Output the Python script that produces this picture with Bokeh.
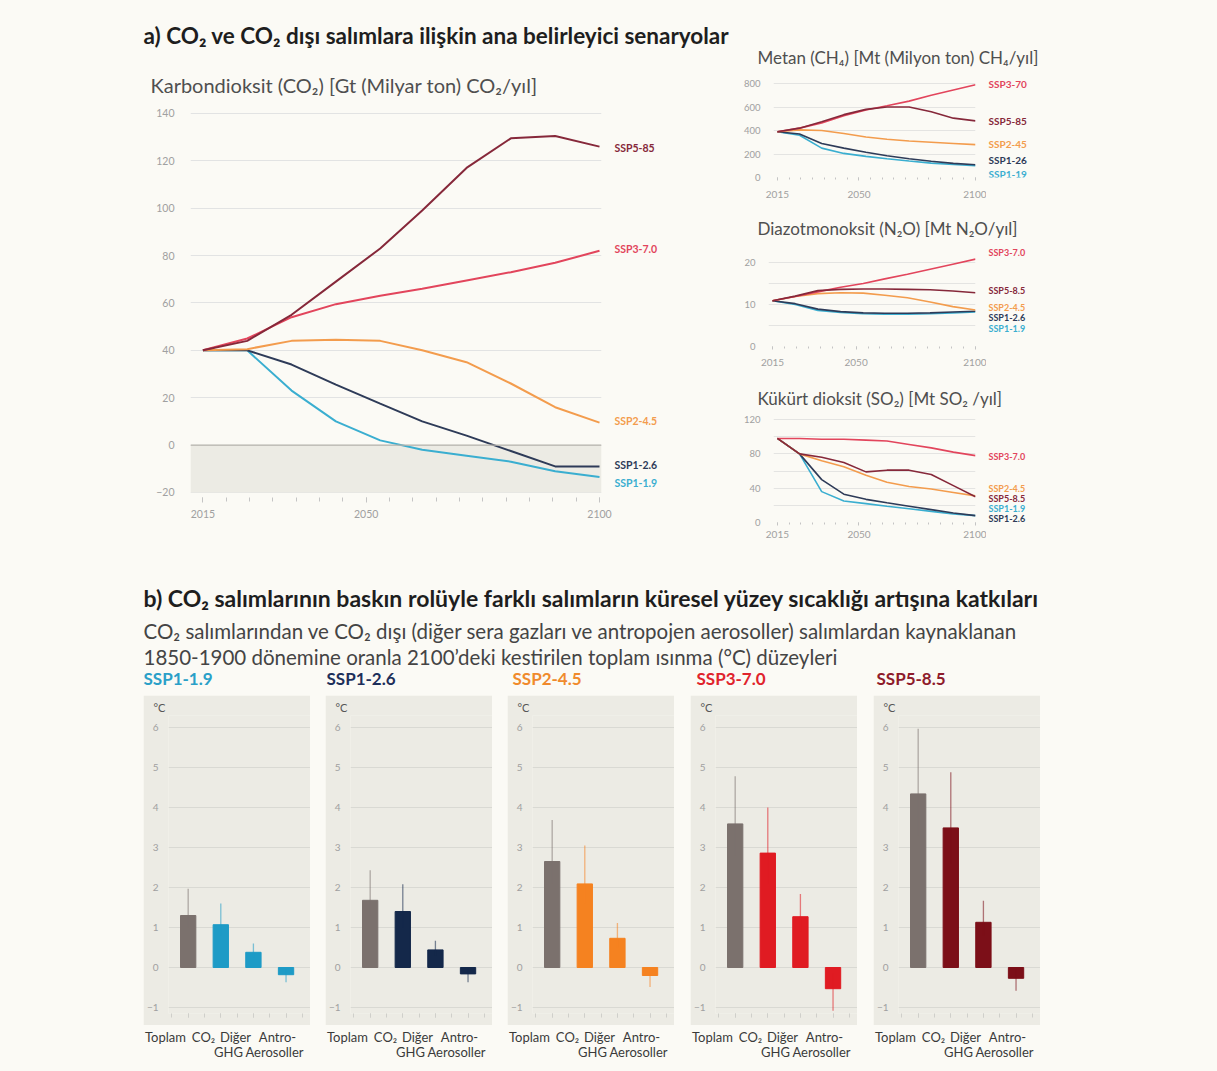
from bokeh.plotting import figure
from bokeh.models import Range1d, FixedTicker, Label, BoxAnnotation, Span, Spacer
from bokeh.layouts import row, column
from bokeh.embed import file_html
from bokeh.resources import INLINE

FONT = "Lato"
BG = "#fbfaf5"
PANEL = "#ecebe4"

# ------------------------------------------------------------------ data
scenarios = ["SSP1-1.9", "SSP1-2.6", "SSP2-4.5", "SSP3-7.0", "SSP5-8.5"]
# positions of the 10 plotted points along the 2015-2100 axis, as drawn
point_years = [2015, 2024.5, 2034, 2043.5, 2053, 2062, 2071.5, 2081, 2090.5, 2100]

co2_ssp119 = [40, 40, 23, 10, 2, -2, -4.5, -7, -11, -13.5]
co2_ssp126 = [40, 40, 34, 25.5, 17.5, 10, 4, -2.5, -9, -9]
co2_ssp245 = [40, 40.5, 44, 44.5, 44, 40, 35, 26, 16, 9.5]
co2_ssp370 = [40, 45, 54, 59.5, 63, 66, 69.5, 73, 77, 82]
co2_ssp585 = [40, 44, 55, 69, 83, 99, 117, 129.5, 130.5, 126]

ch4_ssp119 = [390, 360, 250, 205, 180, 160, 140, 122, 110, 100]
ch4_ssp126 = [390, 370, 290, 250, 215, 185, 160, 138, 120, 108]
ch4_ssp245 = [390, 405, 400, 375, 345, 325, 310, 300, 290, 280]
ch4_ssp370 = [390, 420, 465, 525, 575, 610, 650, 700, 745, 790]
ch4_ssp585 = [390, 420, 475, 535, 580, 600, 600, 560, 505, 482]

n2o_ssp119 = [10.9, 10.0, 8.6, 8.1, 7.8, 7.7, 7.7, 7.8, 8.0, 8.2]
n2o_ssp126 = [10.9, 10.2, 8.9, 8.3, 8.0, 7.9, 7.9, 8.0, 8.2, 8.4]
n2o_ssp245 = [10.9, 11.9, 12.6, 12.8, 12.7, 12.2, 11.6, 10.6, 9.5, 8.7]
n2o_ssp370 = [10.9, 11.9, 13.0, 14.1, 15.0, 16.1, 17.2, 18.4, 19.6, 20.8]
n2o_ssp585 = [10.9, 12.0, 13.3, 13.6, 13.7, 13.7, 13.6, 13.5, 13.2, 12.8]

so2_ssp119 = [98, 80, 36, 25, 22, 19, 16, 13, 10, 8]
so2_ssp126 = [98, 80, 50, 33, 27, 23, 19, 15, 11, 8]
so2_ssp245 = [98, 80, 72, 65, 55, 47, 42, 39, 35, 31]
so2_ssp370 = [98, 98, 97, 97, 96, 95, 91, 87, 82, 78]
so2_ssp585 = [98, 80, 76, 70, 59, 61, 61, 56, 43, 30]

bar_labels_line1 = ["Toplam", "CO₂", "Diğer", "Antro-"]
bar_labels_line2 = ["GHG", "Aerosoller"]
warm_ssp119 = [1.30, 1.07, 0.38, -0.18]
warm_ssp126 = [1.68, 1.40, 0.44, -0.16]
warm_ssp245 = [2.65, 2.09, 0.73, -0.20]
warm_ssp370 = [3.59, 2.86, 1.27, -0.53]
warm_ssp585 = [4.34, 3.49, 1.13, -0.27]
low_ssp119 = [1.00, 0.80, 0.25, -0.37]
low_ssp126 = [1.30, 1.00, 0.30, -0.37]
low_ssp245 = [2.10, 1.60, 0.50, -0.49]
low_ssp370 = [2.80, 2.10, 0.90, -1.08]
low_ssp585 = [3.30, 2.60, 0.80, -0.58]
high_ssp119 = [1.97, 1.60, 0.60, -0.05]
high_ssp126 = [2.43, 2.08, 0.67, -0.05]
high_ssp245 = [3.69, 3.05, 1.11, -0.05]
high_ssp370 = [4.78, 4.00, 1.84, -0.15]
high_ssp585 = [5.97, 4.88, 1.67, -0.05]

# ------------------------------------------------------------------ styles
line_colors = {"SSP1-1.9": "#3aaed0", "SSP1-2.6": "#2e3b58", "SSP2-4.5": "#f39c4d",
               "SSP3-7.0": "#e2455c", "SSP5-8.5": "#86283a"}
bar_colors = {"SSP1-1.9": "#1e9bc6", "SSP1-2.6": "#14284a", "SSP2-4.5": "#f58220",
              "SSP3-7.0": "#e01b22", "SSP5-8.5": "#7c0f18"}
title_colors = {"SSP1-1.9": "#2aa0c8", "SSP1-2.6": "#1d2f5a", "SSP2-4.5": "#f08a2c",
                "SSP3-7.0": "#e0232c", "SSP5-8.5": "#8e1b2b"}
TOTAL_COLOR = "#7b716d"
TICK_COLOR = "#a0a0a0"


def base_fig(**kw):
    return figure(output_backend="svg", toolbar_location=None,
                  background_fill_color=kw.pop("bg", BG), border_fill_color=kw.pop("border", BG),
                  outline_line_color=None, **kw)


def style_axes(p, size="10px"):
    for ax in p.axis:
        ax.axis_line_color = None
        ax.major_label_text_font = FONT
        ax.major_label_text_font_size = size
        ax.major_label_text_color = TICK_COLOR
        ax.major_tick_line_color = None
        ax.minor_tick_line_color = None


def add_label(p, x, y, text, size, color, bold=False, align="left"):
    p.add_layout(Label(x=x, y=y, text=text, text_font=FONT, text_font_size=size,
                       text_color=color, text_font_style="bold" if bold else "normal",
                       text_baseline="middle", text_align=align))


def text_fig(width, height):
    """pixel-mapped strip (y downwards) for headings"""
    p = base_fig(width=width, height=height, x_range=Range1d(0, width),
                 y_range=Range1d(height, 0), min_border=0,
                 x_axis_location=None, y_axis_location=None)
    p.grid.visible = False
    return p


def series_label_fig(width, height, y_range, bt, bb, texts, ys, size):
    """strip right of a line chart; its frame is aligned with the chart's frame
    and it shares the chart's vertical range, for the end-of-line labels"""
    p = base_fig(width=width, height=height, x_range=Range1d(0, width), y_range=y_range,
                 min_border_left=0, min_border_right=0, min_border_top=bt, min_border_bottom=bb,
                 x_axis_location=None, y_axis_location=None)
    p.grid.visible = False
    for name in scenarios:
        add_label(p, 2, ys[name], texts[name], size, line_colors[name], bold=True)
    return p


def time_axis(p, tick_out, standoff):
    p.xaxis.ticker = FixedTicker(ticks=[2015, 2050, 2100], minor_ticks=list(range(2015, 2101, 5)))
    p.xaxis.major_tick_line_color = "#c4c4c4"
    p.xaxis.minor_tick_line_color = "#c4c4c4"
    p.xaxis.major_tick_out = tick_out
    p.xaxis.major_tick_in = 0
    p.xaxis.minor_tick_out = tick_out - 1
    p.xaxis.minor_tick_in = 0
    p.xaxis.major_label_standoff = standoff
    p.xgrid.visible = False


# ------------------------------------------------------------------ a) CO2 main chart
headA = text_fig(740, 96)
add_label(headA, 143, 35, "a) CO₂ ve CO₂ dışı salımlara ilişkin ana belirleyici senaryolar",
          "22.5px", "#1e1e1e", bold=True)
add_label(headA, 150, 84, "Karbondioksit (CO₂) [Gt (Milyar ton) CO₂/yıl]", "20px", "#4f4f4f")

XA0, XA1 = 2012.34, 2100.43
HA, BTA, BBA = 469, 5, 68
yA = Range1d(-22.12, 145.04)
pA = base_fig(width=612, height=HA, x_range=Range1d(XA0, XA1), y_range=yA,
              min_border_left=190, min_border_right=11, min_border_top=BTA, min_border_bottom=BBA)
style_axes(pA, "10.5px")
time_axis(pA, 5, 7)
pA.yaxis.ticker = FixedTicker(ticks=list(range(-20, 141, 20)))
pA.yaxis.major_label_standoff = 10
pA.ygrid.grid_line_color = "#e2e3e3"
pA.add_layout(BoxAnnotation(bottom=-20, top=0, fill_color=PANEL, fill_alpha=1,
                            line_color=None, level="underlay"))
pA.add_layout(Span(location=0, dimension="width", line_color="#b3b1ab", line_width=1.2))
for name, vals in zip(scenarios, [co2_ssp119, co2_ssp126, co2_ssp245, co2_ssp370, co2_ssp585]):
    pA.line(point_years, vals, line_color=line_colors[name], line_width=2)

labA = series_label_fig(
    128, HA, yA, BTA, BBA,
    {"SSP1-1.9": "SSP1-1.9", "SSP1-2.6": "SSP1-2.6", "SSP2-4.5": "SSP2-4.5",
     "SSP3-7.0": "SSP3-7.0", "SSP5-8.5": "SSP5-85"},
    {"SSP1-1.9": -15.8, "SSP1-2.6": -8.2, "SSP2-4.5": 10.0, "SSP3-7.0": 82.6, "SSP5-8.5": 125.6},
    "10.5px")

colA = column(headA, row(pA, labA))

# ------------------------------------------------------------------ small charts
XS0, XS1 = 2013.32, 2100.0


def small_block(title, title_h, title_y, height, bt, bb, y_end, grid_ticks, shown_ticks,
                series, x_standoff, label_texts, label_ys, label_size):
    t = text_fig(477, title_h)
    add_label(t, 17, title_y, title, "17px", "#4f4f4f")
    yr = Range1d(0, y_end)
    p = base_fig(width=246, height=height, x_range=Range1d(XS0, XS1), y_range=yr,
                 min_border_left=28, min_border_right=11, min_border_top=bt, min_border_bottom=bb)
    style_axes(p, "9.5px")
    time_axis(p, 3, x_standoff)
    p.xaxis.major_label_text_font_size = "10px"
    p.yaxis.ticker = FixedTicker(ticks=grid_ticks)
    p.yaxis.major_label_overrides = {tk: "" for tk in grid_ticks if tk not in shown_ticks}
    p.yaxis.major_label_standoff = 7
    p.ygrid.grid_line_color = "#e4e4e2"
    for name, vals in zip(scenarios, series):
        p.line(point_years, vals, line_color=line_colors[name], line_width=1.6)
    lab = series_label_fig(231, height, yr, bt, bb, label_texts, label_ys, label_size)
    return column(t, row(p, lab))


blockCH4 = small_block(
    "Metan (CH₄) [Mt (Milyon ton) CH₄/yıl]", 70, 57, 135, 4, 28, 876.6,
    [0, 200, 400, 600, 800], [0, 200, 400, 600, 800],
    [ch4_ssp119, ch4_ssp126, ch4_ssp245, ch4_ssp370, ch4_ssp585], 10,
    {"SSP1-1.9": "SSP1-19", "SSP1-2.6": "SSP1-26", "SSP2-4.5": "SSP2-45",
     "SSP3-7.0": "SSP3-70", "SSP5-8.5": "SSP5-85"},
    {"SSP1-1.9": 30, "SSP1-2.6": 150, "SSP2-4.5": 289, "SSP3-7.0": 800, "SSP5-8.5": 485},
    "10px")

blockN2O = small_block(
    "Diazotmonoksit (N₂O) [Mt N₂O/yıl]", 35, 23, 138, 5, 32, 24.05,
    [0, 5, 10, 15, 20], [0, 10, 20],
    [n2o_ssp119, n2o_ssp126, n2o_ssp245, n2o_ssp370, n2o_ssp585], 9,
    {s: s for s in scenarios},
    {"SSP1-1.9": 4.3, "SSP1-2.6": 6.8, "SSP2-4.5": 9.4, "SSP3-7.0": 22.4, "SSP5-8.5": 13.3},
    "9px")

blockSO2 = small_block(
    "Kükürt dioksit (SO₂) [Mt SO₂ /yıl]", 32, 20, 155, 4, 43, 125.9,
    [0, 20, 40, 60, 80, 100, 120], [0, 40, 80, 120],
    [so2_ssp119, so2_ssp126, so2_ssp245, so2_ssp370, so2_ssp585], 5,
    {s: s for s in scenarios},
    {"SSP1-1.9": 16, "SSP1-2.6": 4.5, "SSP2-4.5": 40, "SSP3-7.0": 77, "SSP5-8.5": 28},
    "9px")

row1 = row(colA, column(blockCH4, blockN2O, blockSO2))

# ------------------------------------------------------------------ b) header
pH = text_fig(1217, 130)
add_label(pH, 143, 32,
          "b) CO₂ salımlarının baskın rolüyle farklı salımların küresel yüzey sıcaklığı artışına katkıları",
          "23px", "#1e1e1e", bold=True)
add_label(pH, 143, 65,
          "CO₂ salımlarından ve CO₂ dışı (diğer sera gazları ve antropojen aerosoller) salımlardan kaynaklanan",
          "20.5px", "#444444")
add_label(pH, 143, 91,
          "1850-1900 dönemine oranla 2100’deki kestirilen toplam ısınma (°C) düzeyleri",
          "20.5px", "#444444")
panel_title_x = [143, 326, 512, 696, 876]
for name, tx in zip(scenarios, panel_title_x):
    add_label(pH, tx, 113, name, "17px", title_colors[name], bold=True)

# ------------------------------------------------------------------ bar panels
XB0, XB1 = 0.397, 4.75
YB0, YB1 = -1.15, 6.3


def bar_panel(name, vals, lows, highs):
    p = base_fig(width=167, height=330, x_range=Range1d(XB0, XB1), y_range=Range1d(YB0, YB1),
                 min_border_left=19, min_border_right=0, min_border_top=20, min_border_bottom=12,
                 bg=PANEL, border=PANEL, title="°C")
    p.title.align = "left"
    p.title.offset = -15
    p.title.standoff = 3
    p.title.text_font = FONT
    p.title.text_font_size = "11px"
    p.title.text_font_style = "normal"
    p.title.text_color = "#555555"
    style_axes(p, "10px")
    p.xaxis.ticker = FixedTicker(ticks=[1, 2, 3, 4], minor_ticks=[0.5, 1, 1.5, 2, 2.5, 3, 3.5, 4, 4.5])
    p.xaxis.major_tick_line_color = "#cfcfca"
    p.xaxis.minor_tick_line_color = "#cfcfca"
    p.xaxis.major_tick_out = 4
    p.xaxis.major_tick_in = 0
    p.xaxis.minor_tick_out = 4
    p.xaxis.minor_tick_in = 0
    p.xaxis.major_label_text_font_size = "1px"
    p.xaxis.major_label_text_alpha = 0
    p.xaxis.major_label_standoff = 0
    p.yaxis.ticker = FixedTicker(ticks=[-1, 0, 1, 2, 3, 4, 5, 6])
    p.yaxis.major_label_standoff = 4
    p.xgrid.visible = False
    p.ygrid.grid_line_color = "#d9d9d3"
    xs = [1, 2, 3, 4]
    colors = [TOTAL_COLOR, bar_colors[name], bar_colors[name], bar_colors[name]]
    p.vbar(x=xs, top=vals, bottom=0, width=0.47, fill_color=colors, line_color=colors)
    p.segment(x0=xs, x1=xs, y0=lows, y1=highs, line_color=colors, line_alpha=0.55, line_width=1.3)
    return p


warm = [warm_ssp119, warm_ssp126, warm_ssp245, warm_ssp370, warm_ssp585]
lows = [low_ssp119, low_ssp126, low_ssp245, low_ssp370, low_ssp585]
highs = [high_ssp119, high_ssp126, high_ssp245, high_ssp370, high_ssp585]
panels = [bar_panel(n, v, lo, hi) for n, v, lo, hi in zip(scenarios, warm, lows, highs)]

row3 = row(Spacer(width=143, height=330), panels[0], Spacer(width=15, height=330), panels[1],
           Spacer(width=15, height=330), panels[2], Spacer(width=16, height=330), panels[3],
           Spacer(width=16, height=330), panels[4], Spacer(width=177, height=330))

# ------------------------------------------------------------------ category labels under panels
pF = text_fig(1217, 46)
panel_left = [143, 325, 507, 690, 873]
line1_dx = [22, 60, 92, 134]
line2_dx = [85, 131]
for L in panel_left:
    for dx, txt in zip(line1_dx, bar_labels_line1):
        add_label(pF, L + dx, 11, txt, "13px", "#3a3a3a", align="center")
    for dx, txt in zip(line2_dx, bar_labels_line2):
        add_label(pF, L + dx, 26, txt, "13px", "#3a3a3a", align="center")

layout = column(row1, pH, row3, pF, styles={"background-color": BG})

open("out.html", "w").write(file_html(layout, INLINE, title="CO2 senaryolar"))
